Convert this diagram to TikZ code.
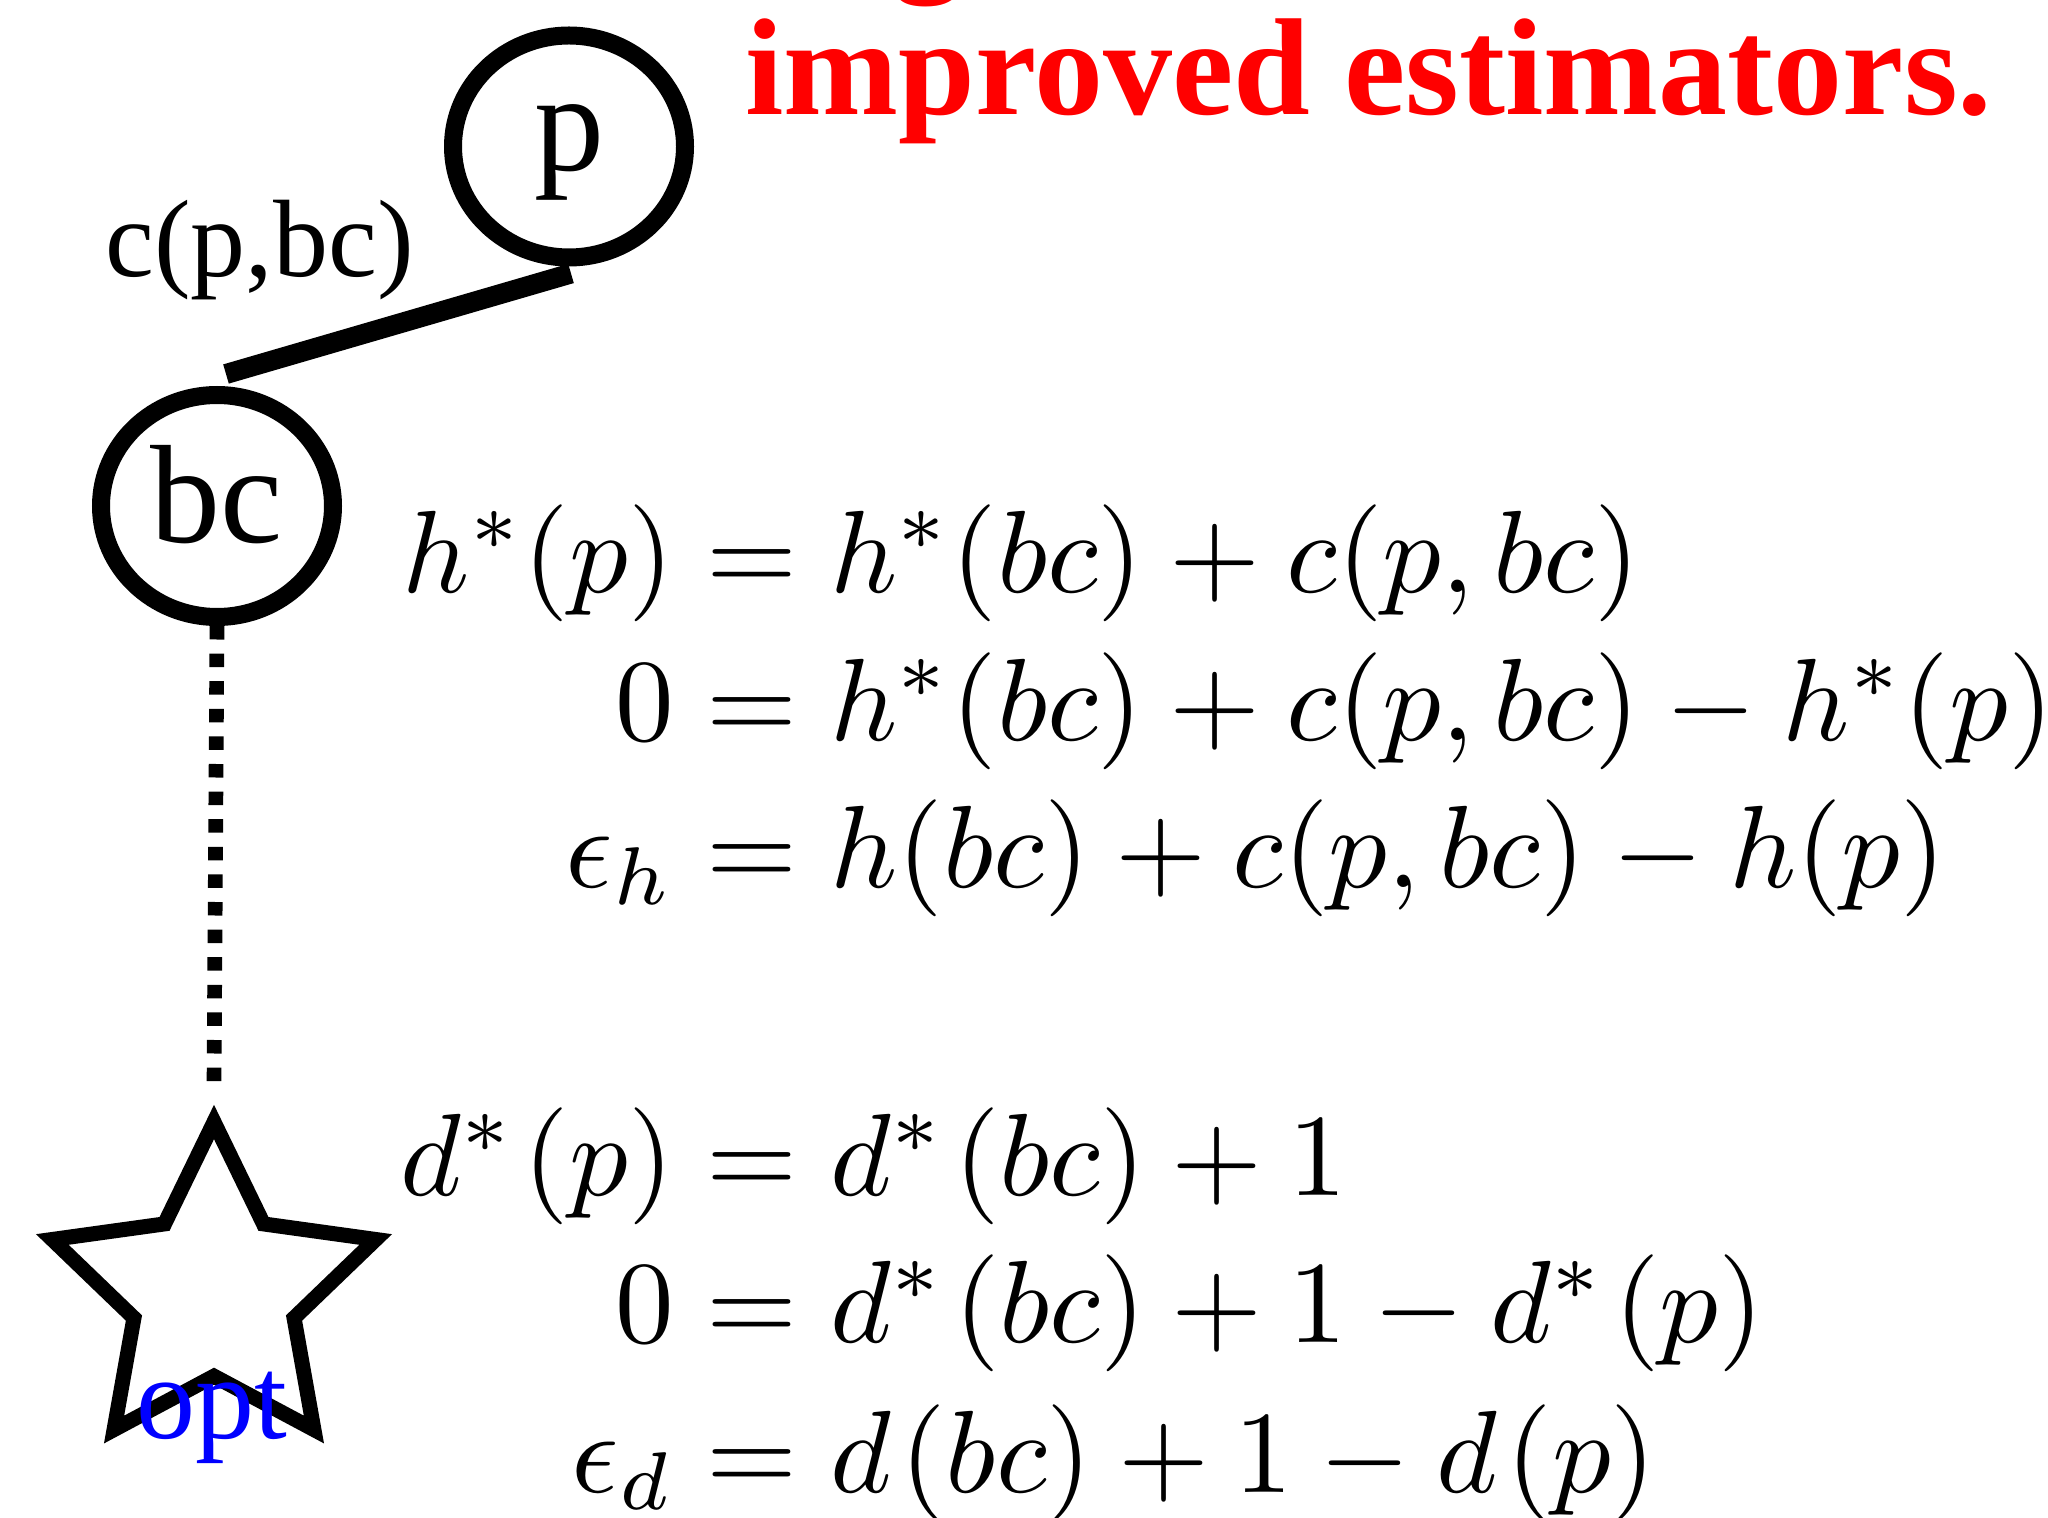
\documentclass[tikz,border=0pt]{standalone}
\usepackage[no-math]{fontspec}
\setmainfont{Liberation Serif}
\DeclareFontShape{OT1}{cmr}{m}{n}{<-35>cmr5 <35-50>cmr7 <50->cmr10}{}
\DeclareFontShape{OML}{cmm}{m}{it}{<-35>cmmi5 <35-50>cmmi7 <50->cmmi10}{}
\DeclareFontShape{OMS}{cmsy}{m}{n}{<-35>cmsy5 <35-50>cmsy7 <50->cmsy10}{}
\DeclareFontShape{OMX}{cmex}{m}{n}{<->cmex10}{}
\usetikzlibrary{shapes.geometric}
\definecolor{titlered}{RGB}{255,0,0}
\definecolor{optblue}{RGB}{0,0,255}
\newcommand{\myd}{{d\kern4.5pt}}
\newcommand{\mydstar}{{d^*\kern4.5pt}}
\begin{document}
\scriptspace=2.9pt
\begin{tikzpicture}[x=0.5pt,y=-0.5pt,
  statenode/.style={ellipse, draw, line width=9pt, minimum width=116pt,
    minimum height=111pt, inner sep=0pt, font=\fontsize{70}{80}\selectfont},
  edgelab/.style={anchor=base west, inner sep=0pt, font=\fontsize{55}{64}\selectfont},
  titletext/.style={anchor=base west, inner sep=0pt, text=titlered,
    font=\fontsize{69}{80}\selectfont\bfseries},
  eql/.style={anchor=base east, inner sep=0pt, font=\fontsize{58.5}{70}\selectfont},
  eqr/.style={anchor=base west, inner sep=0pt, font=\fontsize{58.5}{70}\selectfont},
  goalstar/.style={star, star points=5, star point ratio=2.02, minimum size=170pt,
    inner sep=0pt, draw, line width=7.5pt},
  optlab/.style={anchor=base west, inner sep=0pt, text=optblue,
    font=\fontsize{59}{70}\selectfont},
  costedge/.style={line width=10pt},
  dotline/.style={line width=7.35pt, dash pattern=on 6.75pt off 7.05pt}
]
\useasboundingbox (0,0) rectangle (2048,1518);

% title (upper line cut off by the page edge)
\node[titletext] (titleprev) at (893,-23) {g};
\node[titletext] (title) at (745,115) {improved estimators.};

% graph
\node[statenode, text height=24.5pt, text depth=0pt] (p) at (569,146.5) {p};
\node[statenode, text height=36pt, text depth=0pt] (bc) at (217,506) {bc};
\node[goalstar] (goal) at (214,1292) {};
\node[optlab] (opt) at (136,1438) {opt};
\node[edgelab] (cpbc) at (105,277) {c(p,bc)};

\draw[costedge] ([shift={(2,7)}]p.south) -- ([shift={(9,-12)}]bc.north);
\draw[dotline] (bc.south) -- ([yshift=9pt]goal.north);

% equations, first group
\node[eql] (h1l) at (674,592) {$h^*(p)$};
\node[eqr] (h1r) at (674,592) {${}=h^*(bc)+c(p,bc)$};
\node[eql] (h2l) at (674,740) {$0$};
\node[eqr] (h2r) at (674,740) {${}=h^*(bc)+c(p,bc)-h^*(p)$};
\node[eql] (h3l) at (674,887) {$\epsilon_h$};
\node[eqr] (h3r) at (674,887) {${}=h(bc)+c(p,bc)-h(p)$};

% equations, second group
\node[eql] (d1l) at (674,1195) {$\mydstar(p)$};
\node[eqr] (d1r) at (674,1195) {${}=\mydstar(bc)+1$};
\node[eql] (d2l) at (674,1342) {$0$};
\node[eqr] (d2r) at (674,1342) {${}=\mydstar(bc)+1-\mydstar(p)$};
\node[eql] (d3l) at (674,1492) {$\epsilon_d$};
\node[eqr] (d3r) at (674,1492) {${}=\myd(bc)+1-\myd(p)$};
\end{tikzpicture}
\end{document}
